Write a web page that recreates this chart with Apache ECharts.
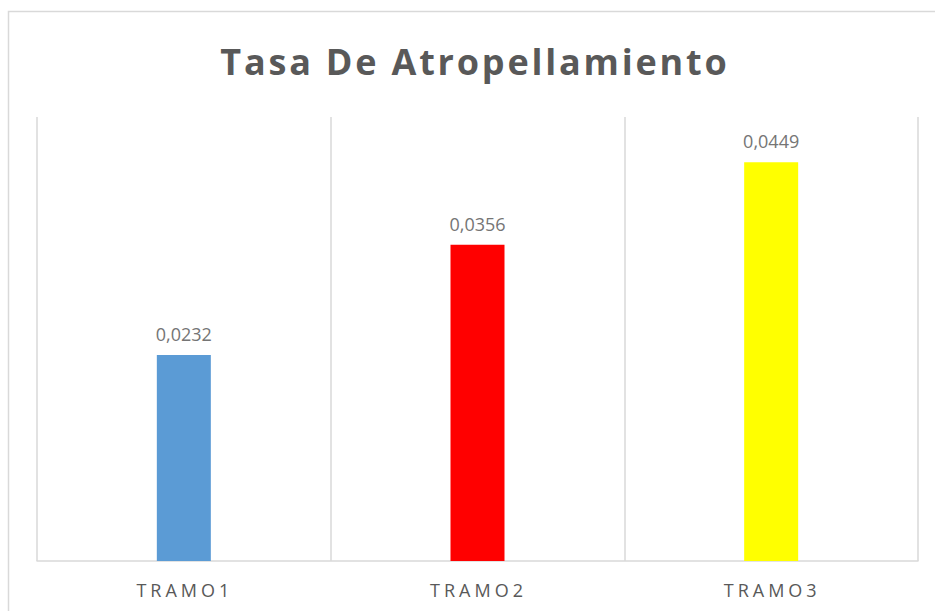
<!DOCTYPE html>
<html>
<head>
<meta charset="utf-8">
<script src="https://cdn.jsdelivr.net/npm/echarts@6/dist/echarts.min.js"></script>
<style>html,body{margin:0;padding:0;background:#fff;}#c{width:935px;height:611px;}</style>
</head>
<body>
<div id="c"></div>
<script>
var titleText = 'Tasa De Atropellamiento';
var categories = ['TRAMO1', 'TRAMO2', 'TRAMO3'];
var values = [0.0232, 0.0356, 0.0449];
var barColors = ['#5B9BD5', '#FF0000', '#FFFF00'];

var chart = echarts.init(document.getElementById('c'), null, {renderer: 'svg'});
chart.setOption({
  backgroundColor: '#fff',
  animation: false,
  graphic: [{
    type: 'rect',
    shape: {x: 8.5, y: 11.5, width: 1000, height: 700},
    style: {fill: 'none', stroke: '#D9D9D9', lineWidth: 1.5},
    silent: true
  }],
  title: {
    text: titleText,
    left: 'center',
    top: 38,
    textStyle: {fontFamily: 'Open Sans', fontWeight: 'bold', fontSize: 36, color: '#595959'}
  },
  grid: {left: 37, right: 17, top: 117, bottom: 50},
  xAxis: {
    type: 'category',
    data: categories,
    axisLine: {lineStyle: {color: '#D9D9D9', width: 1.5}},
    axisTick: {show: false},
    splitLine: {show: true, lineStyle: {color: '#D9D9D9', width: 1.5}},
    axisLabel: {fontFamily: 'Open Sans', fontSize: 18, color: '#595959', margin: 20}
  },
  yAxis: {
    type: 'value',
    min: 0,
    max: 0.05,
    show: false,
    splitLine: {show: false}
  },
  series: [{
    type: 'bar',
    barWidth: 54,
    data: values.map(function (v, i) { return {value: v, itemStyle: {color: barColors[i]}}; }),
    label: {
      show: true,
      position: 'top',
      distance: 12,
      fontFamily: 'Open Sans',
      fontSize: 18,
      color: '#757575',
      formatter: function (p) { return p.value.toFixed(4).replace('.', ','); }
    }
  }]
});

function spaceText() {
  var texts = document.querySelectorAll('#c svg text');
  texts.forEach(function (t) {
    var s = t.textContent;
    var sp = null, extra = 0;
    if (s === titleText) { sp = 2.8; extra = 6; }
    else if (categories.indexOf(s) >= 0) { sp = 4; extra = -1; }
    if (sp === null || t.getAttribute('data-sp')) return;
    var b0 = t.getBBox();
    t.setAttribute('letter-spacing', sp);
    t.style.letterSpacing = sp + 'px';
    var b1 = t.getBBox();
    var c0 = b0.x + b0.width / 2;
    var c1 = b1.x + (b1.width - sp) / 2;
    t.setAttribute('dx', (c0 - c1 + extra).toFixed(2));
    t.setAttribute('data-sp', '1');
  });
}
spaceText();
chart.on('finished', spaceText);
</script>
</body>
</html>
